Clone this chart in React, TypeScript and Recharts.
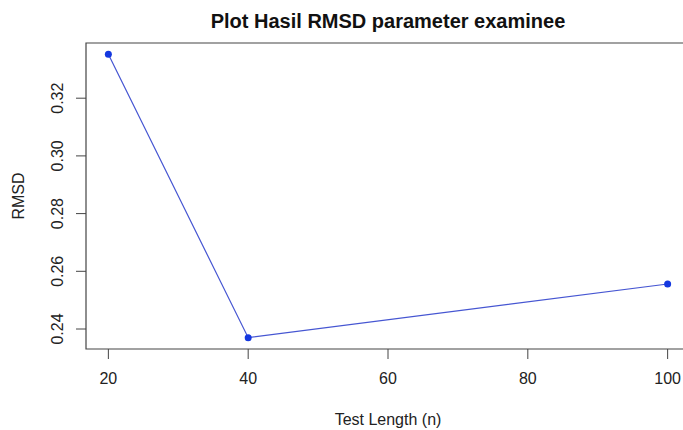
import { LineChart, Line, XAxis, YAxis, ReferenceArea, Label } from "recharts";

const testLength = [20, 40, 100];
const rmsd = [0.3352, 0.237, 0.2556];
const xTicks = [20, 40, 60, 80, 100];
const yTicks = [0.24, 0.26, 0.28, 0.3, 0.32];

const data = testLength.map((n, i) => ({ n, rmsd: rmsd[i] }));

// R-style axis range: data range plus 4% on each side
const pad = (lo: number, hi: number): [number, number] => {
  const d = (hi - lo) * 0.04;
  return [lo - d, hi + d];
};
const xDomain = pad(Math.min(...testLength), Math.max(...testLength));
const yDomain = pad(Math.min(...rmsd), Math.max(...rmsd));

const FONT = "'Liberation Sans', Arial, sans-serif";
const BOX = "#444";

const YTick = (props: any) => {
  const { y, payload } = props;
  return (
    <text
      transform={`translate(57,${y}) rotate(-90)`}
      textAnchor="middle"
      dy="0.36em"
      fontSize={16}
      fontFamily={FONT}
      fill="#222"
    >
      {payload.value.toFixed(2)}
    </text>
  );
};

export default function App() {
  return (
    <div
      style={{
        position: "absolute",
        left: 0,
        top: 0,
        width: 683,
        height: 430,
        overflow: "hidden",
        background: "#fff",
      }}
    >
      <div
        style={{
          position: "absolute",
          left: 86,
          width: 604,
          top: 10,
          textAlign: "center",
          fontFamily: FONT,
          fontWeight: "bold",
          fontSize: 20,
          color: "#111",
        }}
      >
        Plot Hasil RMSD parameter examinee
      </div>
      <LineChart
        width={700}
        height={430}
        data={data}
        margin={{ top: 43, right: 10, left: 0, bottom: 0 }}
      >
        <XAxis
          dataKey="n"
          type="number"
          domain={xDomain}
          ticks={xTicks}
          allowDataOverflow
          height={81}
          axisLine={false}
          tickSize={10}
          tickMargin={14}
          tickLine={{ stroke: BOX }}
          tick={{ fontSize: 16, fontFamily: FONT, fill: "#222" }}
        >
          <Label
            content={() => (
              <text
                x={388}
                y={425}
                textAnchor="middle"
                fontSize={16}
                fontFamily={FONT}
                fill="#222"
              >
                Test Length (n)
              </text>
            )}
          />
        </XAxis>
        <YAxis
          type="number"
          domain={yDomain}
          ticks={yTicks}
          allowDataOverflow
          width={86}
          axisLine={false}
          tickSize={10}
          tickLine={{ stroke: BOX }}
          tick={<YTick />}
        >
          <Label
            content={() => (
              <text
                transform="translate(18,196) rotate(-90)"
                textAnchor="middle"
                dy="0.36em"
                fontSize={16}
                fontFamily={FONT}
                fill="#222"
              >
                RMSD
              </text>
            )}
          />
        </YAxis>
        <ReferenceArea
          x1={xDomain[0]}
          x2={xDomain[1]}
          y1={yDomain[0]}
          y2={yDomain[1]}
          fill="none"
          fillOpacity={0}
          stroke={BOX}
          strokeWidth={1.2}
        />
        <Line
          dataKey="rmsd"
          stroke="#4656d2"
          strokeWidth={1.2}
          dot={{ r: 3.5, fill: "#1438e0", stroke: "none" }}
          isAnimationActive={false}
        />
      </LineChart>
    </div>
  );
}
